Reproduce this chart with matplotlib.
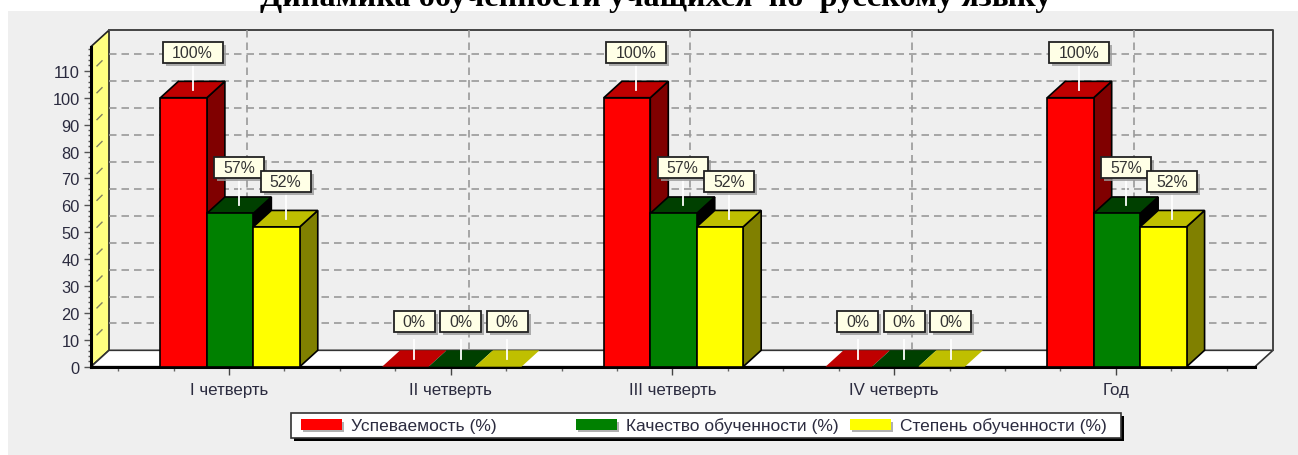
import matplotlib
matplotlib.use("Agg")
import matplotlib.pyplot as plt
from matplotlib.patches import Rectangle, Polygon

plt.rcParams['font.family'] = ['Liberation Sans', 'DejaVu Sans']

# данные
categories = ['I четверть', 'II четверть', 'III четверть', 'IV четверть', 'Год']
uspev = [100, 0, 100, 0, 100]
kachestvo = [57, 0, 57, 0, 57]
stepen = [52, 0, 52, 0, 52]
series_names = ['Успеваемость (%)', 'Качество обученности (%)', 'Степень обученности (%)']
y_ticks = [0, 10, 20, 30, 40, 50, 60, 70, 80, 90, 100, 110]
title = 'Динамика обученности учащихся  по  русскому языку'

W, H = 1298, 456
front_c = ['#FF0000', '#008000', '#FFFF00']
top_c = ['#BF0000', '#004000', '#BFBF00']
side_c = ['#800000', '#000000', '#808000']

fig = plt.figure(figsize=(W / 100, H / 100), dpi=100, facecolor='white')

# подложка в пикселях
bg = fig.add_axes([0, 0, 1, 1])
bg.set_xlim(0, W)
bg.set_ylim(H, 0)
bg.axis('off')
bg.add_patch(Rectangle((8, 12), W - 8, H - 12, fc='#EFEFEF', ec='none'))
bg.text(656, 6, title, family=['Liberation Serif'], weight='bold', fontsize=23.2,
        ha='center', va='baseline', color='black', clip_on=False)

# основная ось: x - номер категории, y - значение
left, right, bottom, top = 91, 1255, 367.7, 47.6
ax = fig.add_axes([left / W, 1 - bottom / H, (right - left) / W, (bottom - top) / H])
ax.patch.set_visible(False)
x0 = (left - 229) / 221.7
x1 = (right - 229) / 221.7
ymax = 119
px_x = (x1 - x0) / (right - left)
px_y = ymax / (bottom - top)
dx = 18 * px_x
dy = 16.4 * px_y

for s in ['top', 'right']:
    ax.spines[s].set_visible(False)
ax.spines['left'].set_linewidth(2.2)
ax.spines['bottom'].set_linewidth(2.2)

ax.set_xticks(range(len(categories)))
ax.set_xticklabels(categories)
ax.set_xticks([i * 0.25 - 0.5 for i in range(21) if i % 4 != 2], minor=True)
ax.set_yticks(y_ticks)
ax.set_yticks([i * 2 for i in range(60)], minor=True)
ax.set_xlim(x0, x1)
ax.set_ylim(0, ymax)
ax.tick_params(axis='x', which='major', length=6, width=1, color='#444444', pad=5,
               labelsize=12.2, labelcolor='#2b2b3f')
ax.tick_params(axis='x', which='minor', length=3, width=1, color='#666666')
ax.tick_params(axis='y', which='major', length=5, width=1, color='#555555', pad=3,
               labelsize=11.8, labelcolor='#2b2b3f')
ax.tick_params(axis='y', which='minor', length=2, width=1, color='#555555')

# стенки
ax.add_patch(Polygon([(x0, 0), (x0 + dx, dy), (x0 + dx, ymax + dy), (x0, ymax)],
                     fc='#FFFF80', ec='#222222', lw=1.2, clip_on=False, zorder=1))
ax.add_patch(Polygon([(x0, 0), (x1, 0), (x1 + dx, dy), (x0 + dx, dy)],
                     fc='white', ec='#333333', lw=1.2, clip_on=False, zorder=1))
ax.plot([x0 + dx, x1 + dx, x1 + dx], [ymax + dy, ymax + dy, dy], color='#444444', lw=1.4,
        clip_on=False, zorder=1)

# сетка на задней стенке
for v in y_ticks[1:]:
    ax.plot([x0 + dx, x1 + dx - 3 * px_x], [v + dy, v + dy], color='#999999', lw=1.2,
            dashes=(4.5, 3), clip_on=False, zorder=1.2)
    ax.plot([x0 + 6 * px_x, x0 + 11 * px_x], [v + 5 * px_y, v + 10 * px_y], color='#808060',
            lw=1, clip_on=False, zorder=1.2)
for c in range(len(categories)):
    ax.plot([c + dx, c + dx], [dy, ymax + dy], color='#999999', lw=1.2, dashes=(4.5, 3),
            clip_on=False, zorder=1.2)

# столбцы
bar_w = 0.2095
all_series = [uspev, kachestvo, stepen]
for i, vals in enumerate(all_series):
    for c, v in enumerate(vals):
        l = c + (i - 1.5) * bar_w + 0.005
        r = l + bar_w
        z = 3 + i
        ec = 'black'
        if v > 0:
            ax.bar(l, v, width=bar_w, align='edge', color=front_c[i], edgecolor=ec, lw=1.2,
                   zorder=z + 0.2, clip_on=False)
            ax.add_patch(Polygon([(r, 0), (r + dx, dy), (r + dx, v + dy), (r, v)],
                                 fc=side_c[i], ec=ec, lw=1.2, zorder=z, clip_on=False))
        ax.add_patch(Polygon([(l, v), (r, v), (r + dx, v + dy), (l + dx, v + dy)],
                             fc=top_c[i], ec=ec if v > 0 else 'none', lw=1.2, zorder=z,
                             clip_on=False))

# подписи значений
box_w = {100: 60, 57: 50, 52: 50, 0: 41}
for i, vals in enumerate(all_series):
    for c, v in enumerate(vals):
        xc = c + (i - 1) * bar_w + 0.005 + dx / 2
        lead_low = v + dy / 2
        lead_high = lead_low + 27 * px_y
        box_low = lead_high
        if v == 0:
            lead_high = v + 27 * px_y
            box_low = v + 34.5 * px_y
        ax.plot([xc, xc], [lead_low, lead_high], color='white', lw=1.3, zorder=8, clip_on=False)
        bw = box_w[v] * px_x
        bh = 21 * px_y
        ax.add_patch(Rectangle((xc - bw / 2 + 3 * px_x, box_low - 3 * px_y), bw, bh, fc='#9a9a9a',
                               ec='none', alpha=0.8, zorder=9 + i, clip_on=False))
        ax.add_patch(Rectangle((xc - bw / 2, box_low), bw, bh, fc='#FFFFE6', ec='#222222', lw=1.3,
                               zorder=9.1 + i, clip_on=False))
        ax.text(xc, box_low + bh / 2, '%d%%' % v, ha='center', va='center', fontsize=11.4,
                color='#333333', zorder=9.2 + i, clip_on=False)

# легенда
bg.add_patch(Rectangle((294, 417), 830, 25, fc='black', ec='none', zorder=2))
bg.add_patch(Rectangle((291, 414), 830, 25, fc='white', ec='#333333', lw=1.2, zorder=3))
for x_sw, name, col in zip([301, 575.5, 850], series_names, front_c):
    bg.add_patch(Rectangle((x_sw + 2, 423), 41, 10.5, fc='#B0B0B0', ec='none', zorder=4))
    bg.add_patch(Rectangle((x_sw, 420.5), 41, 10.5, fc=col, ec='none', zorder=5))
    bg.text(x_sw + 50, 431, name, fontsize=12.5, color='#2b2b3f', va='baseline', ha='left', zorder=5)

fig.savefig('out.png', dpi=100)
